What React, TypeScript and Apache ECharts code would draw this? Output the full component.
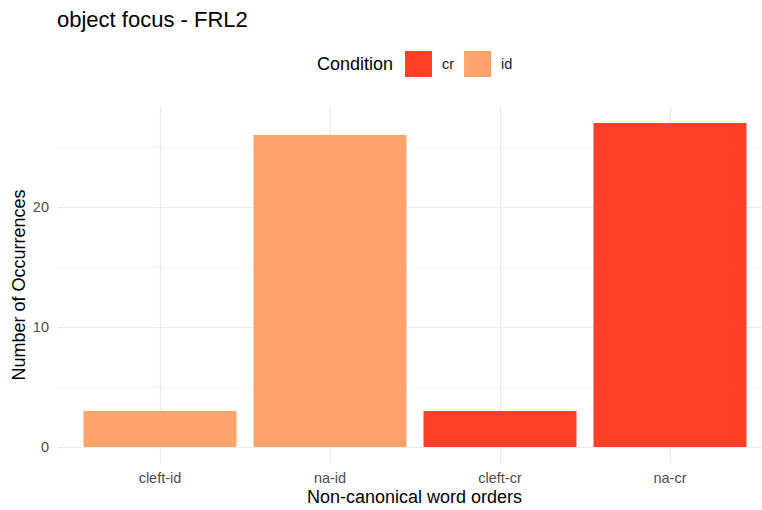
import React, { useEffect, useRef } from "react";
import * as echarts from "echarts";

const categories = ["cleft-id", "na-id", "cleft-cr", "na-cr"];
const conditions = ["cr", "id"];
const idValues: (number | null)[] = [3, 26, null, null];
const crValues: (number | null)[] = [null, null, 3, 27];
const yTickLabels = [0, 10, 20];
const colorCr = "#FD4027";
const colorId = "#FDA36B";

const FONT = "'Liberation Sans', Arial, Helvetica, sans-serif";

export default function App() {
  const ref = useRef<HTMLDivElement>(null);
  useEffect(() => {
    if (!ref.current) return;
    const chart = echarts.init(ref.current, undefined, { renderer: "svg" });
    const toPairs = (vals: (number | null)[]) =>
      vals.map((v, i) => (v == null ? null : [i + 1, v])).filter((d) => d !== null);
    chart.setOption({
      animation: false,
      backgroundColor: "#ffffff",
      textStyle: { fontFamily: FONT },
      grid: [
        // grid for horizontal grid lines and y labels
        { left: 58, right: -10, top: 87, bottom: 63, outerBoundsMode: "none", containLabel: false },
        // grid for bars, vertical grid lines and x labels
        { left: -10, right: -10, top: 106.8, bottom: 46.8, outerBoundsMode: "none", containLabel: false },
      ],
      xAxis: [
        {
          gridIndex: 0,
          type: "value",
          min: 0,
          max: 1,
          show: false,
        },
        {
          gridIndex: 1,
          type: "value",
          min: 0,
          max: 4.6,
          interval: 1,
          axisLine: { show: false },
          axisTick: { show: false },
          axisLabel: {
            margin: 7,
            fontSize: 14.5,
            color: "#4d4d4d",
            fontFamily: FONT,
            showMinLabel: false,
            showMaxLabel: false,
            formatter: (v: number) =>
              Number.isInteger(v) && v >= 1 && v <= categories.length ? categories[v - 1] : "",
          },
          splitLine: { show: true, lineStyle: { color: "#ebebeb", width: 1.2 } },
        },
      ],
      yAxis: [
        {
          gridIndex: 0,
          type: "value",
          min: 0,
          max: 30,
          interval: 5,
          axisLine: { show: false },
          axisTick: { show: false },
          axisLabel: {
            margin: 9,
            fontSize: 14.5,
            color: "#4d4d4d",
            fontFamily: FONT,
            formatter: (v: number) => (yTickLabels.includes(v) ? String(v) : ""),
          },
          splitLine: {
            show: true,
            showMaxLine: false,
            lineStyle: { color: ["#ebebeb", "#f4f4f4"], width: 1.2 },
          },
        },
        {
          gridIndex: 1,
          type: "value",
          min: -1.35,
          max: 28.35,
          show: false,
        },
      ],
      legend: {
        left: 405,
        top: 51,
        padding: 0,
        data: conditions,
        itemWidth: 27,
        itemHeight: 26,
        itemGap: 10,
        icon: "rect",
        selectedMode: false,
        textStyle: {
          fontSize: 14.5,
          color: "#1a1a1a",
          fontFamily: FONT,
          padding: [0, 0, 0, 5],
        },
      },
      graphic: [
        {
          type: "text",
          left: 57,
          top: 8,
          style: { text: "object focus - FRL2", font: `22px ${FONT}`, fill: "#000000" },
        },
        {
          type: "text",
          x: 393,
          y: 64,
          style: {
            text: "Condition",
            font: `18px ${FONT}`,
            fill: "#000000",
            textAlign: "right",
            textVerticalAlign: "middle",
          },
        },
        {
          type: "text",
          x: 414.5,
          y: 497,
          style: {
            text: "Non-canonical word orders",
            font: `18px ${FONT}`,
            fill: "#000000",
            textAlign: "center",
            textVerticalAlign: "middle",
          },
        },
        {
          type: "text",
          x: 19,
          y: 285,
          rotation: Math.PI / 2,
          style: {
            text: "Number of Occurrences",
            font: `18px ${FONT}`,
            fill: "#000000",
            textAlign: "center",
            textVerticalAlign: "middle",
          },
        },
      ],
      series: [
        {
          name: "cr",
          type: "bar",
          xAxisIndex: 1,
          yAxisIndex: 1,
          data: toPairs(crValues),
          barWidth: 153,
          barGap: "-100%",
          itemStyle: { color: colorCr },
        },
        {
          name: "id",
          type: "bar",
          xAxisIndex: 1,
          yAxisIndex: 1,
          data: toPairs(idValues),
          barWidth: 153,
          barGap: "-100%",
          itemStyle: { color: colorId },
        },
      ],
    });
    return () => chart.dispose();
  }, []);
  return <div ref={ref} style={{ width: 762, height: 510, position: "absolute", left: 0, top: 0 }} />;
}
